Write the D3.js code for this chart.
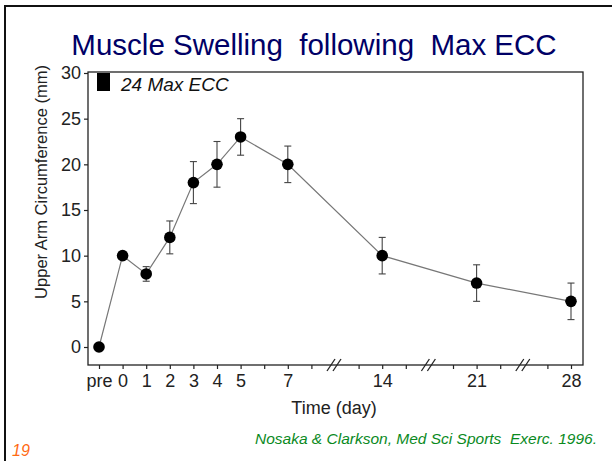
<!DOCTYPE html>
<html>
<head>
<meta charset="utf-8">
<script src="https://cdn.jsdelivr.net/npm/d3@7/dist/d3.min.js"></script>
<style>
  html, body { margin: 0; padding: 0; background: #fff; }
  svg { display: block; font-family: "Liberation Sans", Arial, Helvetica, sans-serif; }
</style>
</head>
<body>
<svg id="chart" width="612" height="461"></svg>
<script>
// Upper arm circumference change after 24 maximal eccentric actions
const timeLabels = ["pre", "0", "1", "2", "3", "4", "5", "7", "14", "21", "28"];
const swelling   = [0, 10, 8, 12, 18, 20, 23, 20, 10, 7, 5];      // mm
const swellingSE = [0, 0.4, 0.8, 1.8, 2.3, 2.5, 2, 2, 2, 2, 2];  // mm

// Slots along the time axis; "b*" entries are axis breaks
const axisSlots = ["pre", "0", "1", "2", "3", "4", "5", "6", "7", "8", "b1",
                   "13", "14", "15", "b2", "20", "21", "22", "b3", "27", "28"];
const breakSlots = ["b1", "b2", "b3"];
const yTicks = [0, 5, 10, 15, 20, 25, 30];

const svg = d3.select("#chart");

// slide frame
svg.append("line").attr("x1", 5).attr("y1", 6).attr("x2", 612).attr("y2", 6)
  .attr("stroke", "#111").attr("stroke-width", 2);
svg.append("line").attr("x1", 5).attr("y1", 5).attr("x2", 5).attr("y2", 461)
  .attr("stroke", "#111").attr("stroke-width", 2);

// title
svg.append("text").attr("x", 314).attr("y", 55).attr("text-anchor", "middle")
  .attr("fill", "#000066").attr("font-size", 29.5)
  .attr("xml:space", "preserve")
  .text("Muscle Swelling  following  Max ECC");

const box = { left: 88, right: 583, top: 72, bottom: 365 };

const x = d3.scalePoint().domain(axisSlots).range([99, 571]).padding(0);
const y = d3.scaleLinear().domain([0, 30]).range([347, 73]);

// plot frame
svg.append("rect")
  .attr("x", box.left).attr("y", box.top)
  .attr("width", box.right - box.left).attr("height", box.bottom - box.top)
  .attr("fill", "none").attr("stroke", "#222").attr("stroke-width", 1.3);

// y axis
const yAxis = svg.append("g").attr("transform", `translate(${box.left},0)`)
  .call(d3.axisLeft(y).tickValues(yTicks).tickSize(4).tickPadding(3));
yAxis.select(".domain").remove();
yAxis.selectAll(".tick line").attr("stroke", "#222").attr("stroke-width", 1.2);
yAxis.selectAll(".tick text").attr("font-size", 18).attr("fill", "#222")
  .attr("font-family", "Liberation Sans, Arial, sans-serif");

// x axis
const tickSlots = axisSlots.filter(s => !breakSlots.includes(s));
const xAxis = svg.append("g").attr("transform", `translate(0,${box.bottom})`)
  .call(d3.axisBottom(x).tickValues(tickSlots).tickSize(4).tickPadding(5)
    .tickFormat(d => timeLabels.includes(d) ? d : ""));
xAxis.select(".domain").remove();
xAxis.selectAll(".tick line").attr("stroke", "#222").attr("stroke-width", 1.2);
xAxis.selectAll(".tick text").attr("font-size", 18).attr("fill", "#222")
  .attr("font-family", "Liberation Sans, Arial, sans-serif");

// axis break marks
const brk = svg.append("g");
breakSlots.forEach(b => {
  const bx = x(b);
  [-4, 2].forEach(off => {
    brk.append("line")
      .attr("x1", bx + off - 4).attr("y1", box.bottom + 6)
      .attr("x2", bx + off + 4).attr("y2", box.bottom - 6)
      .attr("stroke", "#222").attr("stroke-width", 1.3);
  });
});

// axis titles
svg.append("text").attr("x", 334).attr("y", 414).attr("text-anchor", "middle")
  .attr("font-size", 18).attr("fill", "#222").text("Time (day)");
svg.append("text").attr("transform", "translate(47,182) rotate(-90)")
  .attr("text-anchor", "middle").attr("font-size", 16.5).attr("fill", "#222")
  .text("Upper Arm Circumference (mm)");

// legend
svg.append("rect").attr("x", 97).attr("y", 73).attr("width", 13).attr("height", 18)
  .attr("fill", "#000");
svg.append("text").attr("x", 121).attr("y", 91).attr("font-size", 19)
  .attr("font-style", "italic").attr("fill", "#111").text("24 Max ECC");

// data
const pts = timeLabels.map((t, i) => ({ t, v: swelling[i], se: swellingSE[i] }));

svg.append("path").datum(pts)
  .attr("d", d3.line().x(d => x(d.t)).y(d => y(d.v)))
  .attr("fill", "none").attr("stroke", "#777").attr("stroke-width", 1.2);

const eb = svg.append("g").attr("stroke", "#444").attr("stroke-width", 1.1);
pts.filter(d => d.se > 0).forEach(d => {
  const cx = x(d.t);
  eb.append("line").attr("x1", cx).attr("x2", cx)
    .attr("y1", y(d.v - d.se)).attr("y2", y(d.v + d.se));
  [d.v - d.se, d.v + d.se].forEach(v => {
    eb.append("line").attr("x1", cx - 3.5).attr("x2", cx + 3.5)
      .attr("y1", y(v)).attr("y2", y(v));
  });
});

svg.append("g").selectAll("circle").data(pts).join("circle")
  .attr("cx", d => x(d.t)).attr("cy", d => y(d.v)).attr("r", 5.8)
  .attr("fill", "#000");

// footer
svg.append("text").attr("x", 12).attr("y", 456).attr("font-size", 16)
  .attr("font-style", "italic").attr("fill", "#ff6a13").text("19");
svg.append("text").attr("x", 597).attr("y", 444).attr("text-anchor", "end")
  .attr("font-size", 15.5).attr("font-style", "italic").attr("fill", "#0a8a1e")
  .attr("xml:space", "preserve")
  .text("Nosaka & Clarkson, Med Sci Sports  Exerc. 1996.");
</script>
</body>
</html>
